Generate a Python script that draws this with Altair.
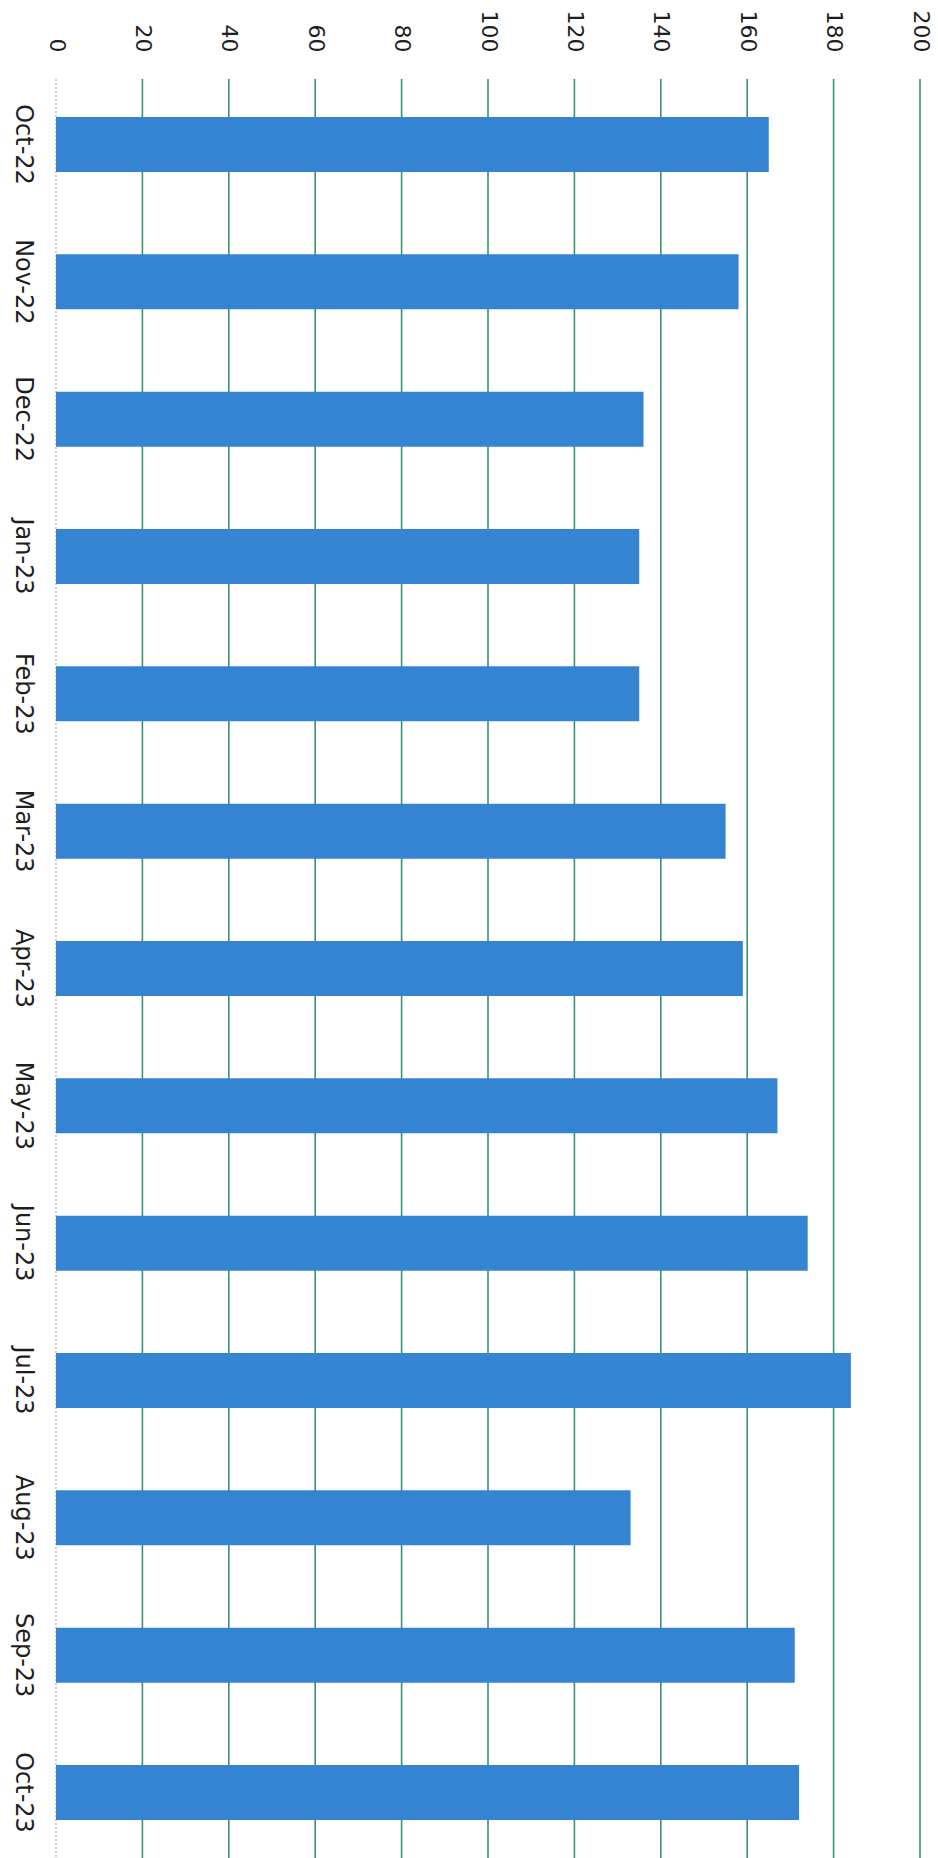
import altair as alt
import pandas as pd

# Monthly totals, Oct-22 to Oct-23
months = ["Oct-22", "Nov-22", "Dec-22", "Jan-23", "Feb-23", "Mar-23", "Apr-23",
          "May-23", "Jun-23", "Jul-23", "Aug-23", "Sep-23", "Oct-23"]
values = [165, 158, 136, 135, 135, 155, 159, 167, 174, 184, 133, 171, 172]

# Value-axis ticks (also used for the gridlines)
tick_values = [0, 20, 40, 60, 80, 100, 120, 140, 160, 180, 200]

bars_df = pd.DataFrame({"month": months, "value": values})
grid_df = pd.DataFrame({"value": tick_values})

FONT = "DejaVu Sans"
TEXT = "#1e1e1e"
BAR = "#3584d2"
GRID = "#3c8f78"
ZERO = "#b9c3da"

x_scale = alt.Scale(domain=[0, 200], nice=False, zero=True)
x_axis = alt.Axis(
    orient="top", values=tick_values, labelAngle=90, labelAlign="right",
    labelBaseline="middle", labelPadding=27, labelFontSize=22, labelFont=FONT,
    labelColor=TEXT, grid=False, ticks=False, domain=False, title=None,
)

grid = alt.Chart(grid_df).mark_rule(strokeWidth=1.6).encode(
    x=alt.X("value:Q", scale=x_scale, axis=x_axis),
    color=alt.condition(alt.datum.value == 0, alt.value(ZERO), alt.value(GRID)),
    strokeDash=alt.condition(alt.datum.value == 0, alt.value([2, 2]), alt.value([1, 0])),
)

bars = alt.Chart(bars_df).mark_bar(color=BAR).encode(
    x=alt.X("value:Q", scale=x_scale, axis=x_axis),
    y=alt.Y(
        "month:N", sort=months,
        scale=alt.Scale(paddingInner=0.6, paddingOuter=0.277),
        axis=alt.Axis(
            labelAngle=90, labelAlign="center", labelBaseline="top",
            labelPadding=22, labelFontSize=24, labelFont=FONT, labelColor=TEXT,
            ticks=False, domain=False, grid=False, title=None,
        ),
    ),
)

chart = alt.layer(grid, bars).properties(
    width=864,
    height=1779,
    padding={"left": 56, "top": 79, "right": 18, "bottom": 0},
    autosize=alt.AutoSizeParams(type="none"),
    background="white",
).configure_view(stroke=None)

chart.save("out.html", embed_options={"renderer": "svg", "actions": False})
